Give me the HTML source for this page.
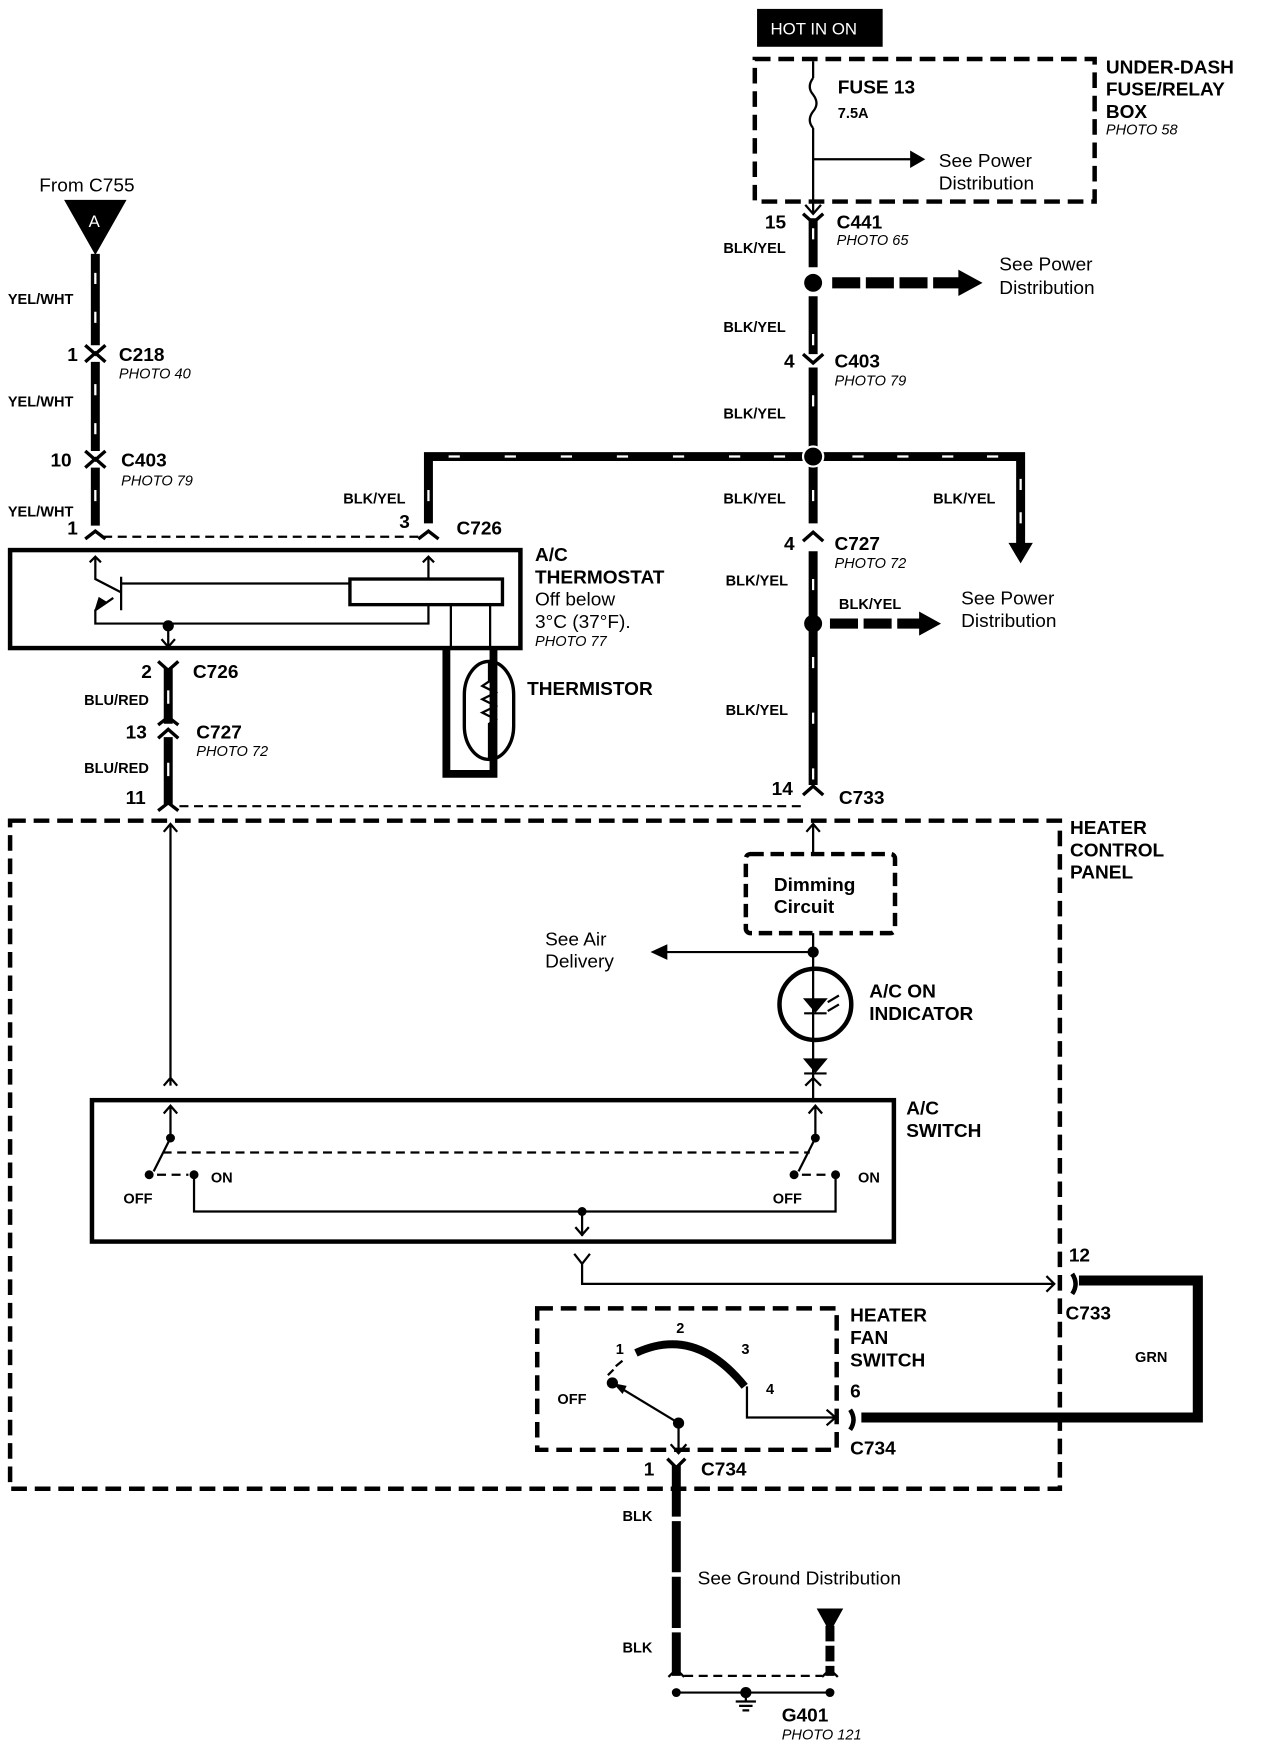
<!DOCTYPE html>
<html><head><meta charset="utf-8"><style>
html,body{margin:0;padding:0;background:#fff}
svg{display:block}
text{font-family:"Liberation Sans",sans-serif;fill:#000}
.b{font-weight:bold;font-size:17px}
.s{font-weight:bold;font-size:13px}
.n{font-size:17px}
.i{font-style:italic;font-size:13px}
</style></head><body>
<svg width="1264" height="1746" viewBox="0 0 1127 1568" preserveAspectRatio="none" xmlns="http://www.w3.org/2000/svg">
<g fill="none" stroke="#000">
<!-- HOT IN ON -->
<rect x="675" y="8" width="112" height="34" fill="#000" stroke="none"/>
<!-- fuse box -->
<rect x="673" y="53" width="303" height="128" stroke-width="4" stroke-dasharray="14,7"/>
<path d="M725 55V70 M725 70q-6 8 0 15q6 8 0 15q-6 8 0 15 M725 115V192" stroke-width="2"/>
<path d="M725 143H815" stroke-width="2"/>
<path d="M812 136l12 7-12 7z" fill="#000"/>
<path d="M718 184l7 8 7-8" stroke-width="2"/>
<!-- main right wire -->
<path d="M725 196V240 M725 266V318 M725 330V470 M725 495V705" stroke-width="8"/>
<path d="M725 205v10 M725 300v10 M725 355v10 M725 440v10 M725 520v10 M725 590v10 M725 640v10 M725 690v10" stroke="#fff" stroke-width="2"/>
<path d="M716 192l9 8 9-8 M716 318l9 8 9-8 M716 486l9-8 9 8 M716 714l9-8 9 8" stroke-width="3"/>
<circle cx="725" cy="254" r="8" fill="#000" stroke="none"/>
<path d="M742 254H855" stroke-width="10" stroke-dasharray="25,5"/>
<path d="M855 243l20 11-20 11z" fill="#000"/>
<!-- horizontal branch -->
<path d="M382 470V410H910V492" stroke-width="8"/>
<path d="M400 410h10 M450 410h10 M500 410h10 M550 410h10 M600 410h10 M650 410h10 M690 410h10 M760 410h10 M800 410h10 M840 410h10 M880 410h10" stroke="#fff" stroke-width="2"/>
<path d="M910 430v10 M910 460v10 M382 440v10" stroke="#fff" stroke-width="2"/>
<circle cx="725" cy="410" r="9" fill="#000" stroke="#fff" stroke-width="2"/>
<path d="M900 488l10 17 10-17z" fill="#000"/>
<circle cx="725" cy="560" r="8" fill="#000" stroke="none"/>
<path d="M740 560H822" stroke-width="9" stroke-dasharray="25,5"/>
<path d="M820 550l18 10-18 10z" fill="#000"/>
<!-- left wire -->
<path d="M58 180H112L85 228Z" fill="#000"/>
<path d="M85 228V310 M85 325V405 M85 420V472" stroke-width="8"/>
<path d="M85 245v10 M85 280v10 M85 345v10 M85 380v10 M85 440v10" stroke="#fff" stroke-width="2"/>
<path d="M76 310l9 8 9-8 M76 325l9-8 9 8 M76 405l9 8 9-8 M76 420l9-8 9 8 M76 484l9-7 9 7 M373 484l9-7 9 7" stroke-width="3"/>
<path d="M92 482H376" stroke-width="2" stroke-dasharray="8,5"/>
<!-- thermostat -->
<rect x="9" y="494" width="455" height="88" stroke-width="4"/>
<path d="M85 500V520L108 532 M108 518V548 M108 524H312 M101 537L85 548V560H382V543 M382 520V500 M80 505l5-5 5 5 M377 505l5-5 5 5" stroke-width="2"/>
<path d="M96 541l-12 8 4-13z" fill="#000" stroke="none"/>
<rect x="312" y="520" width="136" height="23" stroke-width="3"/>
<path d="M402 543V582 M437 543V582" stroke-width="2"/>
<circle cx="150" cy="562" r="5" fill="#000" stroke="none"/>
<path d="M150 562V580 M144 574l6 7 6-7" stroke-width="2"/>
<path d="M398 582V695H440V582" stroke-width="7"/>
<rect x="414" y="594" width="44" height="88" rx="22" ry="30" stroke-width="3"/>
<path d="M436 594V612l-6 4 12 6-12 6 12 6-12 6 12 6-6 4V682" stroke-width="2"/>
<!-- blu/red -->
<path d="M150 600V650 M150 662V722" stroke-width="8"/>
<path d="M150 620v12 M150 685v12" stroke="#fff" stroke-width="2"/>
<path d="M141 594l9 8 9-8 M141 663l9-8 9 8 M141 651l9-7 9 7 M141 728l9-7 9 7" stroke-width="3"/>
<path d="M160 724H718" stroke-width="2" stroke-dasharray="8,5"/>
<!-- heater control panel -->
<rect x="9" y="737" width="936" height="600" stroke-width="4" stroke-dasharray="14,7"/>
<path d="M152 740V975 M146 747l6-7 6 7 M146 975l6-7 6 7" stroke-width="2"/>
<path d="M725 740V767 M719 747l6-7 6 7" stroke-width="2"/>
<rect x="665" y="767" width="133" height="71" rx="4" stroke-width="4" stroke-dasharray="12,6"/>
<path d="M725 838V990 M725 855H590" stroke-width="2"/>
<circle cx="725" cy="855" r="5" fill="#000" stroke="none"/>
<path d="M595 848l-15 7 15 7z" fill="#000" stroke="none"/>
<circle cx="727" cy="902" r="32" stroke-width="4"/>
<path d="M717 897h20l-10 12z M717 951h20l-10 12z" fill="#000" stroke-width="1"/>
<path d="M717 910h20 M717 964h20 M738 900l10-6 M738 908l10-6 M718 975l7-7 7 7" stroke-width="2"/>
<!-- A/C switch -->
<rect x="82" y="988" width="715" height="127" stroke-width="4"/>
<path d="M152 993V1022 M146 1000l6-7 6 7 M727 993V1022 M721 1000l6-7 6 7" stroke-width="2"/>
<path d="M152 1022L137 1052 M727 1022L712 1052" stroke-width="2"/>
<circle cx="152" cy="1022" r="4" fill="#000" stroke="none"/>
<circle cx="727" cy="1022" r="4" fill="#000" stroke="none"/>
<circle cx="133" cy="1055" r="4" fill="#000" stroke="none"/>
<circle cx="173" cy="1055" r="4" fill="#000" stroke="none"/>
<circle cx="708" cy="1055" r="4" fill="#000" stroke="none"/>
<circle cx="745" cy="1055" r="4" fill="#000" stroke="none"/>
<path d="M145 1035H722 M140 1055H168 M715 1055H740" stroke-width="2" stroke-dasharray="8,5"/>
<path d="M173 1055V1088H745V1055 M519 1088V1110 M513 1102l6 7 6-7" stroke-width="2"/>
<circle cx="519" cy="1088" r="4" fill="#000" stroke="none"/>
<path d="M512 1126l7 9 7-9 M519 1135V1153H940 M933 1146l7 7-7 7" stroke-width="2"/>
<path d="M956 1144q6 9 0 18" stroke-width="4"/>
<path d="M962 1150H1068V1273H768" stroke-width="9"/>
<path d="M758 1266q6 9 0 18" stroke-width="4"/>
<!-- heater fan switch -->
<rect x="479" y="1175" width="267" height="127" stroke-width="4" stroke-dasharray="14,7"/>
<path d="M567 1215Q620 1190 664 1245" stroke-width="7"/>
<path d="M555 1222l-6 5 M547 1230l-5 5" stroke-width="2"/>
<circle cx="546" cy="1242" r="5" fill="#000" stroke="none"/>
<path d="M546 1242L605 1278" stroke-width="2"/>
<path d="M548 1243l10 2-3 6z" fill="#000"/>
<circle cx="605" cy="1278" r="5" fill="#000" stroke="none"/>
<path d="M605 1278V1305 M598 1297l7 8 7-8" stroke-width="2"/>
<path d="M666 1245V1273H745 M737 1266l8 7-8 7" stroke-width="2"/>
<!-- ground -->
<path d="M595 1310l8 8 8-8" stroke-width="3"/>
<path d="M603 1316V1505" stroke-width="8" stroke-dasharray="46,4"/>
<path d="M729 1445h22l-11 20z" fill="#000"/>
<path d="M740 1460V1505" stroke-width="8" stroke-dasharray="14,4"/>
<path d="M596 1506l7-7 7 7 M733 1506l7-7 7 7" stroke-width="2"/>
<path d="M610 1505H733" stroke-width="2" stroke-dasharray="8,5"/>
<path d="M603 1520H740" stroke-width="2"/>
<circle cx="603" cy="1520" r="4" fill="#000" stroke="none"/>
<circle cx="740" cy="1520" r="4" fill="#000" stroke="none"/>
<circle cx="665" cy="1520" r="5" fill="#000" stroke="none"/>
<path d="M665 1520V1528 M656 1528h18 M659 1532h12 M662 1536h6" stroke-width="2"/>
</g>
<!-- texts -->
<text x="687" y="31" font-size="15" style="fill:#fff">HOT IN ON</text>
<text class="b" x="986" y="66">UNDER-DASH</text>
<text class="b" x="986" y="86">FUSE/RELAY</text>
<text class="b" x="986" y="106">BOX</text>
<text class="i" x="986" y="121">PHOTO 58</text>
<text class="b" x="747" y="84">FUSE 13</text>
<text class="s" x="747" y="106">7.5A</text>
<text class="n" x="837" y="150">See Power</text>
<text class="n" x="837" y="170">Distribution</text>
<text class="b" x="682" y="205">15</text>
<text class="b" x="746" y="205">C441</text>
<text class="i" x="746" y="220">PHOTO 65</text>
<text class="s" x="645" y="227">BLK/YEL</text>
<text class="n" x="891" y="243">See Power</text>
<text class="n" x="891" y="264">Distribution</text>
<text class="s" x="645" y="298">BLK/YEL</text>
<text class="b" x="699" y="330">4</text>
<text class="b" x="744" y="330">C403</text>
<text class="i" x="744" y="346">PHOTO 79</text>
<text class="s" x="645" y="376">BLK/YEL</text>
<text class="s" x="306" y="452">BLK/YEL</text>
<text class="s" x="645" y="452">BLK/YEL</text>
<text class="s" x="832" y="452">BLK/YEL</text>
<text class="b" x="699" y="494">4</text>
<text class="b" x="744" y="494">C727</text>
<text class="i" x="744" y="510">PHOTO 72</text>
<text class="s" x="647" y="526">BLK/YEL</text>
<text class="s" x="748" y="547">BLK/YEL</text>
<text class="n" x="857" y="543">See Power</text>
<text class="n" x="857" y="563">Distribution</text>
<text class="s" x="647" y="642">BLK/YEL</text>
<text class="b" x="688" y="714">14</text>
<text class="b" x="748" y="722">C733</text>
<text class="n" x="35" y="172">From C755</text>
<text x="79" y="204" font-size="15" style="fill:#fff">A</text>
<text class="s" x="7" y="273">YEL/WHT</text>
<text class="b" x="60" y="324">1</text>
<text class="b" x="106" y="324">C218</text>
<text class="i" x="106" y="340">PHOTO 40</text>
<text class="s" x="7" y="365">YEL/WHT</text>
<text class="b" x="45" y="419">10</text>
<text class="b" x="108" y="419">C403</text>
<text class="i" x="108" y="436">PHOTO 79</text>
<text class="s" x="7" y="464">YEL/WHT</text>
<text class="b" x="60" y="480">1</text>
<text class="b" x="356" y="474">3</text>
<text class="b" x="407" y="480">C726</text>
<text class="b" x="477" y="504">A/C</text>
<text class="b" x="477" y="524">THERMOSTAT</text>
<text class="n" x="477" y="544">Off below</text>
<text class="n" x="477" y="564">3°C (37°F).</text>
<text class="i" x="477" y="580">PHOTO 77</text>
<text class="b" x="470" y="624">THERMISTOR</text>
<text class="b" x="126" y="609">2</text>
<text class="b" x="172" y="609">C726</text>
<text class="s" x="75" y="633">BLU/RED</text>
<text class="b" x="112" y="663">13</text>
<text class="b" x="175" y="663">C727</text>
<text class="i" x="175" y="679">PHOTO 72</text>
<text class="s" x="75" y="694">BLU/RED</text>
<text class="b" x="112" y="722">11</text>
<text class="b" x="954" y="749">HEATER</text>
<text class="b" x="954" y="769">CONTROL</text>
<text class="b" x="954" y="789">PANEL</text>
<text class="b" x="690" y="800">Dimming</text>
<text class="b" x="690" y="820">Circuit</text>
<text class="n" x="486" y="849">See Air</text>
<text class="n" x="486" y="869">Delivery</text>
<text class="b" x="775" y="896">A/C ON</text>
<text class="b" x="775" y="916">INDICATOR</text>
<text class="b" x="808" y="1001">A/C</text>
<text class="b" x="808" y="1021">SWITCH</text>
<text class="s" x="110" y="1081">OFF</text>
<text class="s" x="188" y="1062">ON</text>
<text class="s" x="689" y="1081">OFF</text>
<text class="s" x="765" y="1062">ON</text>
<text class="b" x="953" y="1133">12</text>
<text class="b" x="950" y="1185">C733</text>
<text class="s" x="1012" y="1223">GRN</text>
<text class="b" x="758" y="1187">HEATER</text>
<text class="b" x="758" y="1207">FAN</text>
<text class="b" x="758" y="1227">SWITCH</text>
<text class="b" x="758" y="1255">6</text>
<text class="b" x="758" y="1306">C734</text>
<text class="s" x="549" y="1216">1</text>
<text class="s" x="603" y="1197">2</text>
<text class="s" x="661" y="1216">3</text>
<text class="s" x="683" y="1252">4</text>
<text class="s" x="497" y="1261">OFF</text>
<text class="b" x="574" y="1325">1</text>
<text class="b" x="625" y="1325">C734</text>
<text class="s" x="555" y="1366">BLK</text>
<text class="n" x="622" y="1423">See Ground Distribution</text>
<text class="s" x="555" y="1484">BLK</text>
<text class="b" x="697" y="1546">G401</text>
<text class="i" x="697" y="1562">PHOTO 121</text>
</svg>
</body></html>
